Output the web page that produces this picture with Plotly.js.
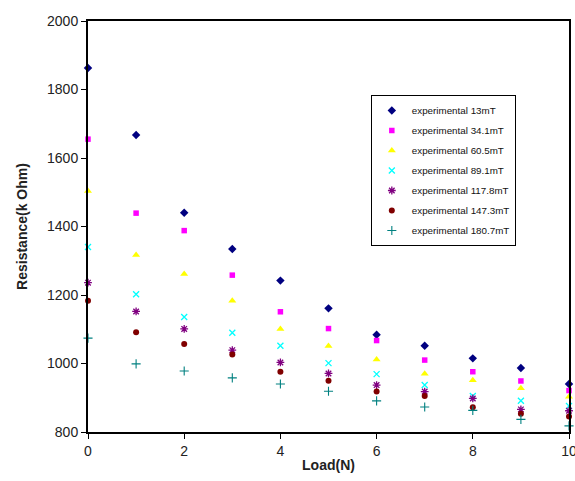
<!DOCTYPE html>
<html>
<head>
<meta charset="utf-8">
<script src="https://cdn.plot.ly/plotly-3.0.1.min.js"></script>
<style>html,body{margin:0;padding:0;background:#fff;}#chart{width:575px;height:481px;}</style>
</head>
<body>
<div id="chart"></div>
<script>
const loads = [0, 1, 2, 3, 4, 5, 6, 7, 8, 9, 10];
const seriesNames = ["experimental 13mT", "experimental 34.1mT", "experimental 60.5mT", "experimental 89.1mT", "experimental 117.8mT", "experimental 147.3mT", "experimental 180.7mT"];
const r13 = [1863, 1667, 1440, 1334, 1242, 1161, 1084, 1052, 1015, 987, 940];
const r34 = [1655, 1439, 1388, 1258, 1151, 1102, 1067, 1010, 976, 949, 921];
const r60 = [1504, 1317, 1261, 1183, 1101, 1051, 1012, 970, 951, 928, 903];
const r89 = [1340, 1202, 1136, 1090, 1052, 1001, 969, 937, 905, 891, 876];
const r117 = [1236, 1152, 1101, 1039, 1003, 971, 937, 918, 898, 866, 862];
const r147 = [1183, 1091, 1057, 1026, 976, 950, 918, 905, 872, 853, 845];
const r180 = [1074, 999, 978, 958, 940, 919, 891, 873, 863, 837, 818];
const yTicks = [800, 1000, 1200, 1400, 1600, 1800, 2000];
const xTicks = [0, 2, 4, 6, 8, 10];

const values = [r13, r34, r60, r89, r117, r147, r180];
const styles = [
  {symbol: "diamond", color: "#000080", size: 6.5},
  {symbol: "square", color: "#FF00FF", size: 5.5},
  {symbol: "triangle-up", color: "#FFFF00", size: 7},
  {symbol: "x-thin-open", color: "#00FFFF", size: 6, lw: 1.3},
  {symbol: "asterisk-open", color: "#800080", size: 6.5, lw: 1.3},
  {symbol: "circle", color: "#800000", size: 6},
  {symbol: "cross-thin-open", color: "#008080", size: 6.5, lw: 1.1}
];

const traces = values.map((v, i) => {
  const s = styles[i];
  const marker = {symbol: s.symbol, color: s.color, size: s.size};
  if (s.lw) marker.line = {color: s.color, width: s.lw};
  else marker.line = {width: 0};
  return {
    x: loads, y: v, name: seriesNames[i], type: "scatter", mode: "markers",
    marker: marker, cliponaxis: false, legendgroup: "g" + i
  };
});

const layout = {
  width: 575, height: 481,
  margin: {l: 88, r: 6, t: 21, b: 49},
  paper_bgcolor: "#fff", plot_bgcolor: "#fff",
  font: {family: "Liberation Sans, Arial, sans-serif", color: "#222", size: 14},
  showlegend: true,
  legend: {
    x: 0.588, y: 0.82, xanchor: "left", yanchor: "top",
    bgcolor: "#fff", bordercolor: "#000", borderwidth: 1,
    font: {size: 9.8, color: "#111"}, tracegroupgap: 1, itemwidth: 30
  },
  xaxis: {
    range: [0, 10], tickvals: xTicks, ticks: "outside", ticklen: 5, tickcolor: "#000",
    showline: true, linecolor: "#000", linewidth: 2, mirror: true, showgrid: false, zeroline: false,
    tickfont: {size: 14}, ticklabeloverflow: "allow",
    title: {text: "<b>Load(N)</b>", font: {size: 14, color: "#222"}, standoff: 2}
  },
  yaxis: {
    range: [800, 2000], tickvals: yTicks, ticks: "outside", ticklen: 5, tickcolor: "#000",
    showline: true, linecolor: "#000", linewidth: 2, mirror: true, showgrid: false, zeroline: false,
    tickfont: {size: 14},
    title: {text: "<b>Resistance(k Ohm)</b>", font: {size: 14, color: "#222"}, standoff: 16}
  }
};

Plotly.newPlot("chart", traces, layout, {displayModeBar: false, staticPlot: true});
</script>
</body>
</html>
